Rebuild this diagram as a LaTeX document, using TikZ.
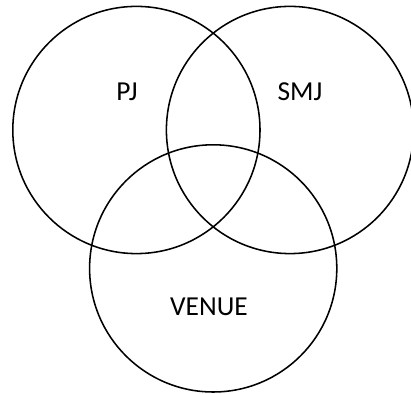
\documentclass[tikz,border=0pt]{standalone}
\usepackage{fontspec}
\setmainfont{Carlito}
\usetikzlibrary{positioning}

\begin{document}
\begin{tikzpicture}[every node/.style={font=\fontsize{19.5}{23}\selectfont},
	setcircle/.style={circle, draw, line width=1.1pt, inner sep=0pt, minimum size=6.18cm}]
	\useasboundingbox (0,0) rectangle (10.275,9.85);
	% Sets
	\node[setcircle] (pj) at (3.41,6.6) {};
	\node[setcircle] (smj) at (7.25,6.6) {};
	\node[setcircle] (venue) at (5.33,3.14) {};
	% Labels
	\node (pjlabel) at (3.175,7.55) {PJ};
	\node (smjlabel) at (7.5,7.55) {SMJ};
	\node (venuelabel) at (5.225,2.175) {VENUE};
\end{tikzpicture}
\end{document}
